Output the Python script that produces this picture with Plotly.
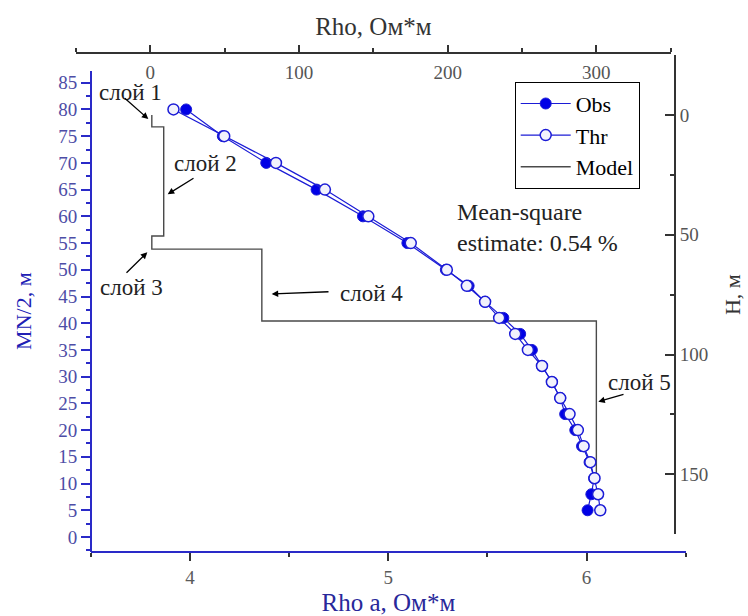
import plotly.graph_objects as go

W, H = 748, 616

# ---------------- data ----------------
mn2 = [80, 75, 70, 65, 60, 55, 50, 47, 44, 41, 38, 35, 32, 29, 26, 23, 20, 17, 14, 11, 8, 5]
rho_obs = [3.98, 4.165, 4.384, 4.638, 4.872, 5.096, 5.29, 5.405, 5.488, 5.58, 5.665, 5.724,
           5.775, 5.825, 5.867, 5.892, 5.943, 5.977, 6.015, 6.038, 6.024, 6.005]
rho_thr = [3.916, 4.172, 4.433, 4.68, 4.899, 5.113, 5.295, 5.396, 5.488, 5.559, 5.64, 5.704,
           5.775, 5.825, 5.867, 5.914, 5.956, 5.985, 6.019, 6.04, 6.058, 6.069]

layer_rho = [1, 9, 1, 75, 300]          # Ohm*m
layer_top = [0, 5, 50.5, 56, 86]        # m
model_bottom = 150                       # m
layer_names = ["слой 1", "слой 2", "слой 3", "слой 4", "слой 5"]

# step line for model
model_x, model_y = [], []
for i, r in enumerate(layer_rho):
    top = layer_top[i]
    bot = layer_top[i + 1] if i + 1 < len(layer_top) else model_bottom
    model_x += [r, r]
    model_y += [top, bot]

FONT = "Liberation Serif, Times New Roman, serif"
BLUE = "#1c1cd6"
AXBLUE = "#2a2ac8"
DARK = "#333333"


def px(x):
    return x / W


def py(y):
    return 1 - y / H


fig = go.Figure()

# model (drawn on the first subplot -> beneath the data)
fig.add_trace(go.Scatter(x=model_x, y=model_y, mode="lines", name="Model",
                         line=dict(color="#4a4a4a", width=1.4),
                         xaxis="x", yaxis="y", legendrank=3))

fig.add_trace(go.Scatter(x=rho_obs, y=mn2, mode="lines+markers", name="Obs",
                         line=dict(color=BLUE, width=1.2),
                         marker=dict(symbol="circle", size=11, color="#0000e6",
                                     line=dict(color=BLUE, width=1)),
                         xaxis="x2", yaxis="y2", legendrank=1))
fig.add_trace(go.Scatter(x=rho_thr, y=mn2, mode="lines+markers", name="Thr",
                         line=dict(color=BLUE, width=1.2),
                         marker=dict(symbol="circle", size=11, color="#f2f2fc",
                                     line=dict(color=BLUE, width=1.5)),
                         xaxis="x2", yaxis="y2", legendrank=2))

fig.update_layout(
    width=W, height=H,
    margin=dict(l=0, r=0, t=0, b=0),
    paper_bgcolor="white",
    plot_bgcolor="rgba(0,0,0,0)",
    font=dict(family=FONT, color="black"),
    # top axis: model resistivity
    xaxis=dict(domain=[px(76), px(670.7)], range=[-50, 350], side="top",
               anchor="free", position=py(53.3),
               showgrid=False, zeroline=False, showline=True, linecolor=DARK, linewidth=2,
               ticks="outside", ticklen=7, tickwidth=2, tickcolor=DARK,
               tickmode="linear", tick0=0, dtick=100, ticklabelposition="inside",
               ticklabelstandoff=12,
               tickfont=dict(family=FONT, size=19, color="#555555"),
               minor=dict(dtick=50, tick0=0, ticks="outside", ticklen=4, tickwidth=2, tickcolor=DARK),
               title=dict(text="Rho, Ом*м", font=dict(family=FONT, size=25, color="#333333"), standoff=18)),
    # right axis: depth
    yaxis=dict(domain=[py(534.3), py(55)], range=[175, -25], side="right",
               anchor="free", position=px(675),
               showgrid=False, zeroline=False, showline=True, linecolor=DARK, linewidth=2,
               ticks="inside", ticklen=9, tickwidth=2, tickcolor=DARK,
               tickmode="linear", tick0=0, dtick=50,
               tickfont=dict(family=FONT, size=19, color="#555555"),
               minor=dict(dtick=25, tick0=0, ticks="inside", ticklen=4, tickwidth=2, tickcolor=DARK),
               title=dict(text="H, м", font=dict(family=FONT, size=22, color="#333333"), standoff=16)),
    # bottom axis: apparent resistivity
    xaxis2=dict(domain=[px(91), px(685.7)], range=[3.5, 6.5], side="bottom",
                anchor="free", position=py(551.7),
                showgrid=False, zeroline=False, showline=True, linecolor=AXBLUE, linewidth=2,
                ticks="outside", ticklen=8, tickwidth=2, tickcolor=DARK,
                tickmode="linear", tick0=0, dtick=1,
                tickfont=dict(family=FONT, size=19, color="#5a5a5a"),
                minor=dict(dtick=0.5, tick0=0, ticks="outside", ticklen=4, tickwidth=2, tickcolor=DARK),
                title=dict(text="Rho a, Ом*м", font=dict(family=FONT, size=25, color="#28289a"), standoff=9)),
    # left axis: MN/2
    yaxis2=dict(domain=[py(551.7), py(70.7)], range=[-2.75, 87.25], side="left",
                anchor="free", position=px(91),
                showgrid=False, zeroline=False, showline=True, linecolor=AXBLUE, linewidth=2,
                ticks="outside", ticklen=9, tickwidth=2, tickcolor=AXBLUE,
                tickmode="linear", tick0=0, dtick=5,
                tickfont=dict(family=FONT, size=19, color="#4d4da6"),
                minor=dict(dtick=2.5, tick0=0, ticks="outside", ticklen=4, tickwidth=2, tickcolor=AXBLUE),
                title=dict(text="MN/2, м", font=dict(family=FONT, size=22, color="#2020b4"), standoff=19)),
    legend=dict(x=px(514.7), y=py(81.7), xanchor="left", yanchor="top",
                bgcolor="white", bordercolor="black", borderwidth=1,
                font=dict(family=FONT, size=22, color="black"),
                tracegroupgap=0, itemwidth=50),
    showlegend=True,
)

annotations = []
# layer labels (text centres) and arrows (head, tail) in pixel space
label_pos = [(130, 92), (205.5, 163), (131, 288), (371, 293), (639.5, 382)]
arrows = [((148.3, 119), (123.3, 97)),
          ((167.7, 194.3), (195, 177.3)),
          ((147.3, 252.3), (125, 274.3)),
          ((271.7, 294), (330, 291.7)),
          ((598.3, 401.7), (625, 394))]
for name, (tx, ty) in zip(layer_names, label_pos):
    annotations.append(dict(text=name, x=px(tx), y=py(ty), xref="paper", yref="paper",
                            xanchor="center", yanchor="middle", showarrow=False,
                            font=dict(family=FONT, size=23, color="#222222")))
for (hx, hy), (tx, ty) in arrows:
    annotations.append(dict(text="", x=px(hx), y=py(hy), xref="paper", yref="paper",
                            ax=tx - hx, ay=ty - hy, showarrow=True,
                            arrowhead=2, arrowsize=1, arrowwidth=1.3, arrowcolor="black"))

annotations.append(dict(text="Mean-square<br>estimate: 0.54 %", x=px(455), y=py(228),
                        xref="paper", yref="paper", xanchor="left", yanchor="middle",
                        align="left", showarrow=False,
                        font=dict(family=FONT, size=24, color="#222222")))

fig.update_layout(annotations=annotations)

fig.write_html("out.html")
